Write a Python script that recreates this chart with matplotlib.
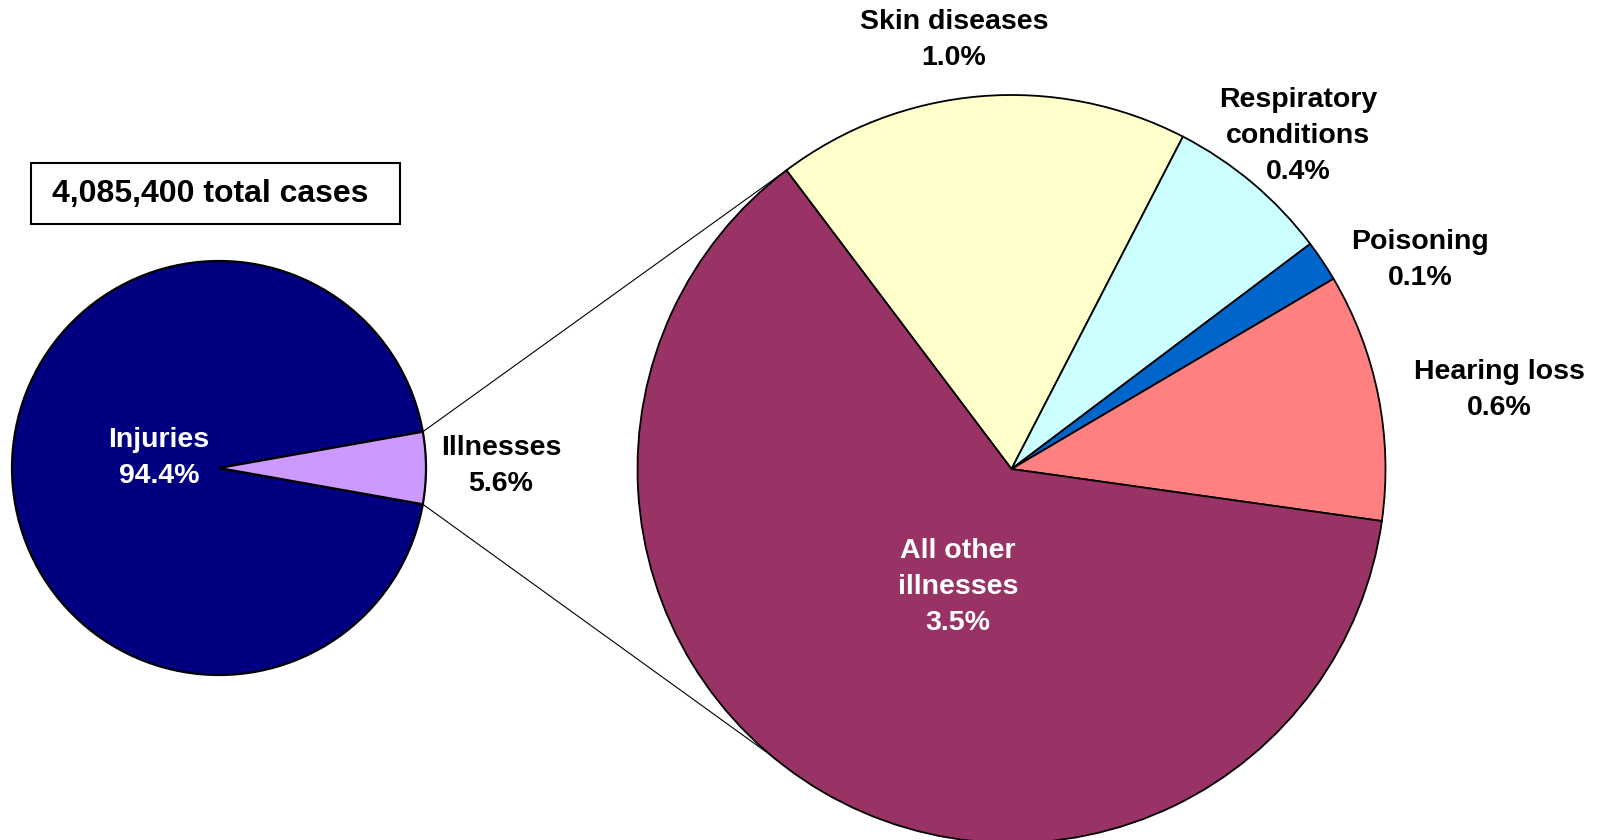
import matplotlib.pyplot as plt
from matplotlib.patches import Rectangle
import numpy as np

# main pie
main_labels = ['Injuries', 'Illnesses']
main_values = [94.4, 5.6]
main_colors = ['#000080', '#CC99FF']

# breakdown of illnesses
sub_labels = ['Skin diseases', 'Respiratory\nconditions', 'Poisoning', 'Hearing loss', 'All other\nillnesses']
sub_values = [1.0, 0.4, 0.1, 0.6, 3.5]
sub_colors = ['#FFFFCC', '#CCFFFF', '#0066CC', '#FF8080', '#993366']

total_text = '4,085,400 total cases'

W, H = 1602, 840
fig = plt.figure(figsize=(W / 100, H / 100), dpi=100)
ax = fig.add_axes([0, 0, 1, 1])

font = 'Liberation Sans'

# left pie, illnesses slice centred on the right side
c1, r1 = (219, H - 468), 207
half = main_values[1] / sum(main_values) * 360 / 2
ax.pie(main_values, colors=main_colors, center=c1, radius=r1, startangle=half,
       wedgeprops=dict(edgecolor='black', linewidth=1.6))

# right pie
c2, r2 = (1011.5, H - 469), 374
start2 = 127
ax.pie(sub_values, colors=sub_colors, center=c2, radius=r2, startangle=start2,
       counterclock=False, wedgeprops=dict(edgecolor='black', linewidth=1.3))

# pie() resets the limits, so set them afterwards
ax.set_xlim(0, W)
ax.set_ylim(0, H)
ax.set_aspect('equal')
ax.axis('off')

# connector lines
for a1, a2 in [(half, start2), (-half, -130)]:
    p1 = (c1[0] + r1 * np.cos(np.radians(a1)), c1[1] + r1 * np.sin(np.radians(a1)))
    p2 = (c2[0] + r2 * np.cos(np.radians(a2)), c2[1] + r2 * np.sin(np.radians(a2)))
    ax.plot([p1[0], p2[0]], [p1[1], p2[1]], color='black', lw=0.8, zorder=0)

# labels
main_pos = [(159, 458), (501, 466)]
main_tc = ['white', 'black']
for lab, v, (x, y), tc in zip(main_labels, main_values, main_pos, main_tc):
    ax.text(x, H - y, f'{lab}\n{v:.1f}%', ha='center', va='center', color=tc,
            fontsize=20.5, fontweight='bold', family=font, linespacing=1.5)

sub_pos = [(954, 40), (1298, 136), (1420, 260), (1499, 390), (958, 587)]
sub_tc = ['black', 'black', 'black', 'black', 'white']
for lab, v, (x, y), tc in zip(sub_labels, sub_values, sub_pos, sub_tc):
    ax.text(x, H - y, f'{lab}\n{v:.1f}%', ha='center', va='center', color=tc,
            fontsize=20.5, fontweight='bold', family=font, linespacing=1.5)

# total cases box
ax.add_patch(Rectangle((31, H - 224), 369, 61, fill=False, edgecolor='black', lw=1.5))
ax.text(210, H - 194, total_text, ha='center', va='center', fontsize=23,
        fontweight='bold', family=font)

fig.savefig('out.png', dpi=100)
